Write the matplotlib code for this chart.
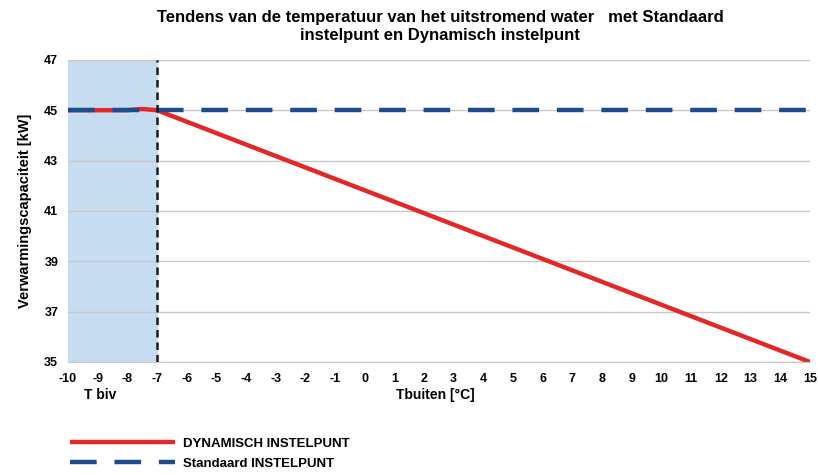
import matplotlib.pyplot as plt

# Data
temp_x = [-10, -9, -8, -7.5, -7, 15]
dynamisch = [45, 45, 45, 45.05, 45, 35]
standaard_x = [-10, 15]
standaard = [45, 45]
t_biv = -7
xticks = list(range(-10, 16))
yticks = [35, 37, 39, 41, 43, 45, 47]

plt.rcParams['font.family'] = ['Liberation Sans', 'DejaVu Sans']
plt.rcParams['font.weight'] = 'bold'
plt.rcParams['axes.unicode_minus'] = False

fig = plt.figure(figsize=(8.18, 4.75), dpi=100)
ax = fig.add_axes([0.083, 0.238, 0.907, 0.636])

ax.axvspan(-10, t_biv, color='#c6dcf1', zorder=0)
ax.axvline(t_biv, color='#1a1a1a', linestyle=(0, (3, 2)), linewidth=1.8, zorder=4)

ax.plot(temp_x, dynamisch, color='#e3282a', linewidth=3.2, solid_capstyle='butt',
        label='DYNAMISCH INSTELPUNT', zorder=2)
ax.plot(standaard_x, standaard, color='#1f4b8c', linewidth=3.2, linestyle=(0, (6, 4)),
        label='Standaard INSTELPUNT', zorder=3)

ax.set_xlim(-10, 15)
ax.set_ylim(35, 47)
ax.set_xticks(xticks)
ax.set_yticks(yticks)
ax.tick_params(axis='x', length=0, labelsize=9, pad=8)
ax.tick_params(axis='y', length=0, labelsize=9, pad=7)
ax.yaxis.grid(True, color='#c8c8c8', linewidth=1)
ax.set_axisbelow(True)
for s in ['top', 'right', 'left']:
    ax.spines[s].set_visible(False)
ax.spines['bottom'].set_color('#c8c8c8')

ax.set_ylabel('Verwarmingscapaciteit [kW]', fontsize=10.5, fontweight='bold', labelpad=9)
fig.text(100 / 818, 1 - 395 / 475, 'T biv', fontsize=10, fontweight='bold', ha='center', va='center')
fig.text(435 / 818, 1 - 395 / 475, 'Tbuiten [°C]', fontsize=10, fontweight='bold', ha='center', va='center')

fig.suptitle('Tendens van de temperatuur van het uitstromend water   met Standaard\ninstelpunt en Dynamisch instelpunt',
             x=440 / 818, y=1 - 10 / 475, fontsize=12, fontweight='bold', va='top', linespacing=1.25)

fig.legend(loc='upper left', bbox_to_anchor=(58 / 818, 1 - 426 / 475), frameon=False,
           fontsize=9.5, handlelength=8, labelspacing=0.55, handletextpad=0.6)

plt.savefig('out.png', dpi=100)
